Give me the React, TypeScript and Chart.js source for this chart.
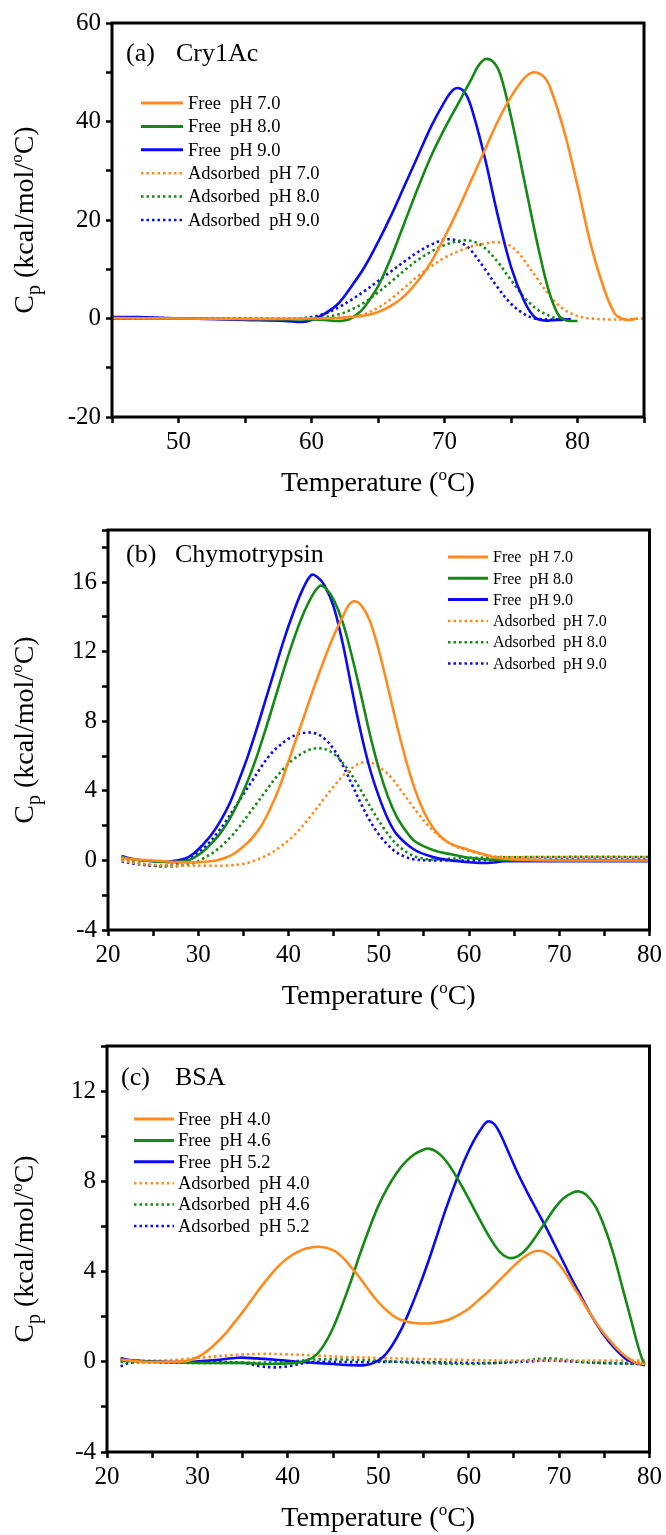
import React, { useEffect, useRef } from 'react';
import { Chart, registerables } from 'chart.js';
Chart.register(...registerables);

const ORANGE = '#FF8A1E';
const GREEN = '#138A13';
const BLUE = '#0A0AF5';
const SERIF = '"Liberation Serif", "Times New Roman", serif';

// ---------- Panel (a) Cry1Ac ----------
const aFree70 = [[45,0.1],[50,0],[55,-0.1],[60,0],[62,0.1],[63,0.3],[64,0.6],[65,1.3],[66,2.6],[67,4.6],[68,7.6],[69,11.5],[70,16.5],[71,22],[72,28],[73,34],[74,40],[75,45],[76,48.8],[76.7,50],[77.5,49],[78,46.5],[79,38],[80,27],[81,15],[82,6],[82.8,1],[83.3,0],[83.8,-0.3],[84.5,0]];
const aFree80 = [[45,0],[50,0],[55,-0.1],[60,-0.2],[61,-0.3],[62,-0.5],[62.8,-0.2],[63.5,1],[64,2.4],[65,6.5],[66,12.5],[67,19.5],[68,26.5],[69,33],[70,38.5],[71,43.5],[72,48.5],[72.6,51.5],[73.1,52.7],[73.7,52],[74.2,49.5],[75,41],[76,28],[77,15],[77.8,6],[78.5,1],[79,-0.3],[79.5,-0.5],[80,-0.5]];
const aFree90 = [[45,0.3],[47,0.3],[49,0.1],[52,-0.1],[55,-0.3],[58,-0.5],[59.3,-0.7],[60,-0.3],[61,1],[62,3],[63,6.5],[64,10.5],[65,15.5],[66,21],[67,27],[68,33],[69,39],[70,44],[70.6,46.3],[71,46.8],[71.5,46],[72,43],[73,33],[74,21],[75,10.5],[76,3.5],[76.8,0.2],[77.5,-0.4],[78.5,-0.3],[79.5,-0.1]];
const aAds70 = [[45,0],[50,0],[55,0],[60,0],[62,0.1],[63,0.4],[64,0.9],[65,2.2],[66,4],[67,6.3],[68,8.6],[69,10.6],[70,12.3],[71,13.6],[72,14.6],[73,15.2],[74,15.5],[74.8,15],[75.5,13.5],[76,11.8],[77,8],[78,4.3],[79,1.8],[80,0.5],[81,0],[82.5,-0.2],[84,-0.1],[85,0]];
const aAds80 = [[45,0],[55,0],[60,0.1],[61,0.3],[62,0.8],[63,1.8],[64,3.3],[65,5.3],[66,7.5],[67,9.8],[68,11.9],[69,13.6],[70,14.9],[71,15.7],[71.6,15.9],[72.3,15.5],[73,14.4],[74,11.5],[75,7.8],[76,4.3],[77,1.8],[78,0.4],[78.5,0],[79,-0.1]];
const aAds90 = [[45,0.2],[48,0.1],[52,0],[56,-0.1],[59,0],[60,0.3],[61,1],[62,2.2],[63,3.8],[64,5.6],[65,7.6],[66,9.6],[67,11.6],[68,13.5],[69,15],[70,16],[70.7,16],[71.5,15],[72,13.8],[73,10.2],[74,6.3],[75,3],[76,0.9],[76.8,0],[78,-0.2],[79,-0.1]];
const aLabels = ['Free  pH 7.0','Free  pH 8.0','Free  pH 9.0','Adsorbed  pH 7.0','Adsorbed  pH 8.0','Adsorbed  pH 9.0'];

// ---------- Panel (b) Chymotrypsin ----------
const bFree70 = [[21.5,0.15],[23,0.05],[25,0],[28,-0.1],[30,-0.1],[32,0],[33,0.15],[34,0.4],[35,0.8],[36,1.3],[37,2],[38,3],[39,4.2],[40,5.7],[41,7.2],[42,8.7],[43,10.2],[44,11.6],[45,12.9],[46,14],[46.7,14.7],[47.3,14.9],[48,14.7],[49,13.8],[50,12.1],[51,10],[52,7.8],[53,5.8],[54,4.1],[55,2.8],[56,1.9],[57,1.3],[58,0.95],[60,0.6],[62,0.3],[63,0.15],[65,0.05],[70,0],[80,0]];
const bFree80 = [[21.5,0.2],[23,0.05],[25,-0.05],[27,-0.1],[28.5,-0.05],[29.5,0.15],[30.5,0.5],[31.5,1],[32.5,1.6],[33.5,2.4],[34.5,3.4],[35.5,4.6],[36.5,6],[37.5,7.6],[38.5,9.3],[39.5,11],[40.5,12.6],[41.5,14],[42.5,15.1],[43.5,15.8],[44.2,15.6],[45,15],[46,13.7],[47,11.8],[48,9.6],[49,7.3],[50,5.3],[51,3.7],[52,2.5],[53,1.7],[54,1.1],[56,0.6],[58,0.35],[60,0.15],[62,0.05],[65,0],[80,0]];
const bFree90 = [[21.5,0.25],[23,0.05],[25,-0.05],[27,-0.05],[28.5,0.1],[29.5,0.4],[30.5,0.9],[31.5,1.5],[32.5,2.3],[33.5,3.3],[34.5,4.6],[35.5,6],[36.5,7.6],[37.5,9.3],[38.5,11],[39.5,12.7],[40.5,14.2],[41.5,15.5],[42.5,16.4],[43.2,16.3],[44,15.8],[45,14.6],[46,12.5],[47,9.9],[48,7.4],[49,5.3],[50,3.7],[51,2.4],[52,1.5],[54,0.6],[56,0.2],[58,0],[60,-0.1],[62,-0.15],[64,-0.05],[70,-0.05],[80,-0.05]];
const bAds70 = [[21.5,0],[23,-0.15],[25,-0.25],[28,-0.3],[31,-0.3],[33,-0.3],[35,-0.2],[36,-0.05],[37,0.15],[38,0.4],[39,0.75],[40,1.15],[41,1.65],[42,2.25],[43,2.9],[44,3.6],[45,4.25],[46,4.85],[47,5.3],[48,5.6],[48.6,5.65],[49.5,5.55],[50.5,5.2],[51.5,4.7],[52.5,4],[53.5,3.3],[54.5,2.6],[55.5,2],[56.5,1.5],[57.5,1.1],[58.5,0.8],[60,0.55],[62,0.3],[64,0.2],[70,0.2],[80,0.2]];
const bAds80 = [[21.5,0.1],[23,-0.1],[25,-0.3],[26.5,-0.35],[28,-0.3],[29.5,-0.15],[30.5,0.1],[31.5,0.4],[32.5,0.8],[33.5,1.3],[34.5,1.9],[35.5,2.6],[36.5,3.3],[37.5,4],[38.5,4.7],[39.5,5.3],[40.5,5.8],[41.5,6.15],[42.5,6.4],[43.5,6.45],[44.5,6.3],[45.5,5.9],[46.5,5.3],[47.5,4.5],[48.5,3.6],[49.5,2.7],[50.5,1.9],[51.5,1.2],[52.5,0.7],[53.5,0.35],[54.5,0.15],[56,0.05],[58,0.1],[60,0.15],[70,0.2],[80,0.2]];
const bAds90 = [[21.5,-0.05],[23,-0.2],[25,-0.3],[26.5,-0.3],[28,-0.15],[29,0.1],[30,0.45],[31,0.9],[32,1.5],[33,2.2],[34,3],[35,3.8],[36,4.6],[37,5.4],[38,6.1],[39,6.6],[40,7],[41,7.25],[42,7.35],[43,7.3],[44,7],[45,6.4],[46,5.5],[47,4.4],[48,3.3],[49,2.3],[50,1.5],[51,0.9],[52,0.45],[53,0.2],[54,0.05],[56,0],[60,0],[70,0.05],[80,0.05]];
const bLabels = ['Free  pH 7.0','Free  pH 8.0','Free  pH 9.0','Adsorbed  pH 7.0','Adsorbed  pH 8.0','Adsorbed  pH 9.0'];

// ---------- Panel (c) BSA ----------
const cFree40 = [[21.5,0.1],[24,0],[27,0],[29,0.05],[30,0.2],[31,0.45],[32,0.8],[33,1.2],[34,1.7],[35,2.2],[36,2.75],[37,3.3],[38,3.8],[39,4.25],[40,4.6],[41,4.85],[42,5.02],[43.5,5.1],[45,4.95],[46,4.65],[47,4.2],[48,3.7],[49,3.15],[50,2.65],[51,2.25],[52,1.95],[53,1.8],[54,1.72],[55.5,1.7],[57,1.78],[58,1.9],[59,2.1],[60,2.35],[61,2.7],[62,3.05],[63,3.45],[64,3.85],[65,4.25],[66,4.6],[67,4.85],[67.7,4.92],[68.5,4.85],[69.5,4.55],[70.5,4.05],[71.5,3.4],[72.5,2.75],[73.5,2.1],[74.5,1.5],[75.5,1],[76.5,0.55],[77.5,0.2],[78.5,-0.05],[79.5,-0.1]];
const cFree46 = [[21.5,0.05],[25,0],[30,-0.05],[35,-0.05],[38,-0.1],[41,-0.05],[42,0.05],[43,0.25],[44,0.75],[45,1.5],[46,2.5],[47,3.6],[48,4.8],[49,5.9],[50,6.9],[51,7.7],[52,8.35],[53,8.85],[54,9.2],[55,9.4],[55.6,9.45],[56.5,9.3],[57.5,8.9],[58.5,8.3],[59.5,7.6],[60.5,6.85],[61.5,6.1],[62.5,5.4],[63.5,4.85],[64.5,4.6],[65.5,4.7],[66.5,5.05],[67.5,5.6],[68.5,6.2],[69.5,6.8],[70.5,7.25],[71.5,7.5],[72.2,7.55],[73,7.4],[74,6.9],[75,6],[76,4.8],[77,3.3],[78,1.8],[78.8,0.6],[79.3,0],[79.5,-0.1]];
const cFree52 = [[21.5,0.15],[23,0.05],[26,0],[29,0],[32,0.08],[34.5,0.18],[36.5,0.15],[39,0.08],[41,0],[43,-0.05],[45,-0.1],[47,-0.15],[48.5,-0.15],[49.5,-0.05],[50.5,0.2],[51.5,0.7],[52.5,1.4],[53.5,2.3],[54.5,3.3],[55.5,4.4],[56.5,5.6],[57.5,6.8],[58.5,7.9],[59.5,8.9],[60.5,9.75],[61.5,10.4],[62.1,10.65],[62.8,10.55],[63.5,10.1],[64.5,9.2],[65.5,8.3],[66.5,7.5],[67.5,6.75],[68.5,6],[69.5,5.2],[70.5,4.4],[71.5,3.6],[72.5,2.85],[73.5,2.1],[74.5,1.45],[75.5,0.9],[76.5,0.45],[77.5,0.1],[78.5,-0.05],[79.5,-0.15]];
const cAds40 = [[21.5,0.1],[25,0.05],[28,0.1],[31,0.2],[34,0.3],[37,0.35],[40,0.33],[43,0.28],[46,0.22],[50,0.17],[55,0.12],[60,0.08],[65,0.05],[70,0.05],[75,0.05],[79.5,0.05]];
const cAds46 = [[21.5,0],[25,-0.03],[30,-0.05],[35,-0.05],[40,0],[43,0.1],[46,0.1],[50,0.05],[53,-0.03],[57,-0.08],[60,-0.1],[63,-0.05],[66,0.05],[68.5,0.15],[70,0.12],[72,0.02],[74,-0.05],[77,-0.08],[79.5,-0.1]];
const cAds52 = [[21.5,-0.2],[22.5,-0.05],[24,0],[28,0],[32,0],[35,-0.05],[37,-0.2],[38.5,-0.25],[40,-0.2],[42,-0.05],[44,0],[48,-0.02],[52,0],[56,-0.02],[60,-0.05],[63,-0.05],[66,0],[69,0.05],[72,0],[75,-0.05],[79.5,-0.1]];
const cLabels = ['Free  pH 4.0','Free  pH 4.6','Free  pH 5.2','Adsorbed  pH 4.0','Adsorbed  pH 4.6','Adsorbed  pH 5.2'];

const seriesColors = [ORANGE, GREEN, BLUE, ORANGE, GREEN, BLUE];
const seriesDotted = [false, false, false, true, true, true];
const DOT = [2.5, 3];

const panels = [
  {
    top: 0, height: 510,
    area: { left: 112, right: 644, top: 23, bottom: 417 },
    x: { min: 45, max: 85, step: 5, labelEvery: 10 },
    y: { min: -20, max: 60, step: 10, labelEvery: 20 },
    series: [aFree70, aFree80, aFree90, aAds70, aAds80, aAds90],
    labels: aLabels,
    legend: { x0: 141, x1: 183, tx: 188, y0: 103, dy: 23.4, font: 18.5 },
    tag: { t1: '(a)', t2: 'Cry1Ac', x1: 126, x2: 176, y: 54 },
  },
  {
    top: 510, height: 510,
    area: { left: 108, right: 650, top: 19, bottom: 420 },
    x: { min: 20, max: 80, step: 5, labelEvery: 10 },
    y: { min: -4, max: 19, step: 2, labelEvery: 4 },
    series: [bFree70, bFree80, bFree90, bAds70, bAds80, bAds90],
    labels: bLabels,
    legend: { x0: 448, x1: 488, tx: 493, y0: 47, dy: 21.3, font: 16 },
    tag: { t1: '(b)', t2: 'Chymotrypsin', x1: 126, x2: 175, y: 45 },
  },
  {
    top: 1020, height: 515,
    area: { left: 107, right: 650, top: 26, bottom: 432 },
    x: { min: 20, max: 80, step: 5, labelEvery: 10 },
    y: { min: -4, max: 14, step: 2, labelEvery: 4 },
    series: [cFree40, cFree46, cFree52, cAds40, cAds46, cAds52],
    labels: cLabels,
    legend: { x0: 134, x1: 174, tx: 178, y0: 99, dy: 21.4, font: 18.5 },
    tag: { t1: '(c)', t2: 'BSA', x1: 121, x2: 175, y: 58 },
  },
];

function drawPieces(ctx: CanvasRenderingContext2D, pieces: any[], cx: number, cy: number) {
  let total = 0;
  for (const p of pieces) {
    ctx.font = `${p.size}px ${SERIF}`;
    p.w = ctx.measureText(p.t).width;
    total += p.w;
  }
  let x = cx - total / 2;
  for (const p of pieces) {
    ctx.font = `${p.size}px ${SERIF}`;
    ctx.fillText(p.t, x, cy + (p.dy || 0));
    x += p.w;
  }
}

function makeDecor(p: any) {
  return {
    id: 'decor',
    afterDatasetsDraw(chart: any) {
      const ctx: CanvasRenderingContext2D = chart.ctx;
      const a = chart.chartArea;
      ctx.save();
      ctx.strokeStyle = '#000';
      ctx.lineWidth = 3;
      ctx.setLineDash([]);
      ctx.strokeRect(a.left, a.top, a.right - a.left, a.bottom - a.top);
      ctx.fillStyle = '#000';
      ctx.textBaseline = 'middle';
      ctx.textAlign = 'left';
      ctx.font = `26px ${SERIF}`;
      ctx.fillText(p.tag.t1, p.tag.x1, p.tag.y);
      ctx.fillText(p.tag.t2, p.tag.x2, p.tag.y);
      const L = p.legend;
      p.labels.forEach((lab: string, i: number) => {
        const y = L.y0 + i * L.dy;
        ctx.strokeStyle = seriesColors[i];
        ctx.lineWidth = seriesDotted[i] ? 2.5 : 3;
        ctx.setLineDash(seriesDotted[i] ? DOT : []);
        ctx.beginPath();
        ctx.moveTo(L.x0, y);
        ctx.lineTo(L.x1, y);
        ctx.stroke();
        ctx.setLineDash([]);
        ctx.fillStyle = '#000';
        ctx.font = `${L.font}px ${SERIF}`;
        ctx.textBaseline = 'middle';
        ctx.fillText(lab, L.tx, y + 1);
      });
      ctx.textBaseline = 'alphabetic';
      ctx.textAlign = 'left';
      ctx.fillStyle = '#000';
      drawPieces(ctx, [
        { t: 'Temperature (', size: 28 },
        { t: 'o', size: 17, dy: -11 },
        { t: 'C)', size: 28 },
      ], (a.left + a.right) / 2, a.bottom + 74);
      ctx.save();
      ctx.translate(33, (a.top + a.bottom) / 2);
      ctx.rotate(-Math.PI / 2);
      drawPieces(ctx, [
        { t: 'C', size: 28 },
        { t: 'p', size: 20, dy: 7 },
        { t: ' (kcal/mol/', size: 28 },
        { t: 'o', size: 17, dy: -11 },
        { t: 'C)', size: 28 },
      ], 0, 0);
      ctx.restore();
      ctx.restore();
    },
  };
}

function Panel({ p }: { p: any }) {
  const ref = useRef<HTMLCanvasElement>(null);
  useEffect(() => {
    const canvas = ref.current!;
    const datasets = p.series.map((s: number[][], i: number) => ({
      label: p.labels[i],
      data: s.map(([x, y]) => ({ x, y })),
      borderColor: seriesColors[i],
      backgroundColor: seriesColors[i],
      borderWidth: 2.6,
      borderDash: seriesDotted[i] ? DOT : [],
      pointRadius: 0,
      fill: false,
      tension: 0.35,
    }));
    const tickFont = { family: SERIF, size: 25 };
    const chart = new Chart(canvas, {
      type: 'line',
      data: { datasets },
      options: {
        animation: false,
        responsive: false,
        devicePixelRatio: 1,
        layout: { padding: { top: p.area.top, right: 666 - p.area.right, left: 0, bottom: 0 } },
        plugins: { legend: { display: false }, tooltip: { enabled: false } },
        scales: {
          x: {
            type: 'linear',
            min: p.x.min, max: p.x.max,
            bounds: 'data',
            ticks: {
              stepSize: p.x.step, autoSkip: false, maxRotation: 0, includeBounds: false,
              color: '#000', font: tickFont, padding: 4,
              callback: (v: any) => (Math.abs(v % p.x.labelEvery) < 1e-9 ? String(v) : ''),
            },
            grid: { drawOnChartArea: false, tickLength: 6, tickWidth: 2.5, tickColor: '#000' },
            border: { display: false },
            afterFit: (s: any) => { s.height = p.height - p.area.bottom; },
          },
          y: {
            type: 'linear',
            min: p.y.min, max: p.y.max,
            bounds: 'data',
            ticks: {
              stepSize: p.y.step, autoSkip: false, includeBounds: false,
              color: '#000', font: tickFont, padding: 5,
              callback: (v: any) => (Math.abs(v % p.y.labelEvery) < 1e-9 ? String(v) : ''),
            },
            grid: { drawOnChartArea: false, tickLength: 6, tickWidth: 2.5, tickColor: '#000' },
            border: { display: false },
            afterFit: (s: any) => { s.width = p.area.left; },
          },
        },
      },
      plugins: [makeDecor(p)],
    } as any);
    return () => chart.destroy();
  }, [p]);
  return (
    <canvas
      ref={ref}
      width={666}
      height={p.height}
      style={{ position: 'absolute', left: 0, top: p.top, width: 666, height: p.height }}
    />
  );
}

export default function App() {
  return (
    <div style={{ position: 'absolute', left: 0, top: 0, width: 666, height: 1535, background: '#fff' }}>
      {panels.map((p, i) => (
        <Panel key={i} p={p} />
      ))}
    </div>
  );
}
